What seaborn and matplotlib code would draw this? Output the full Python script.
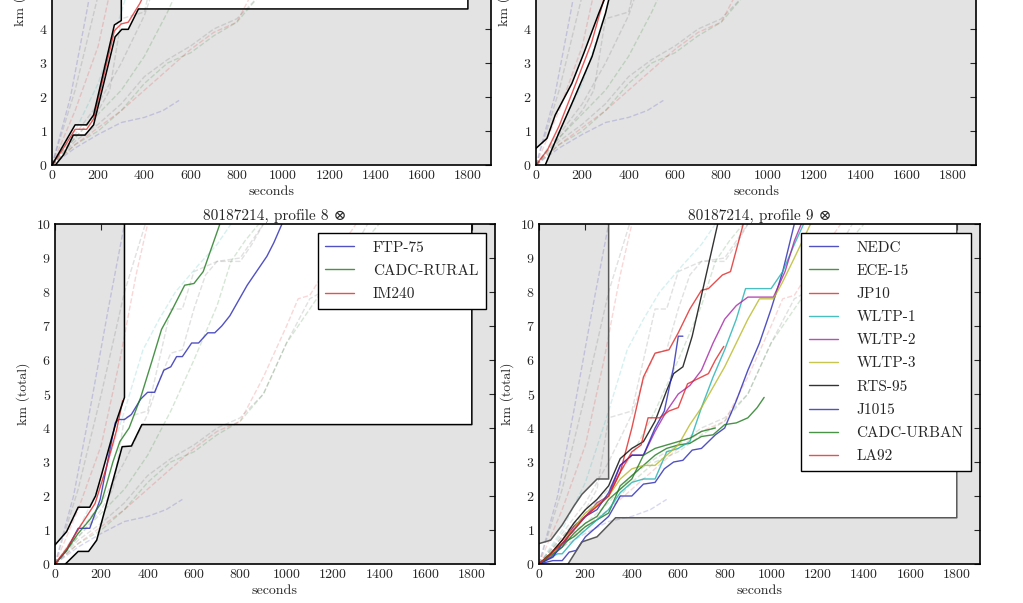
import matplotlib
matplotlib.use("Agg")
import matplotlib.pyplot as plt
import seaborn as sns

# ---- data (seconds, km total) ----
# allowed region per panel: upper / lower boundary
upper_a_t = [0, 100, 150, 180, 270, 300]
upper_a_km = [0.0, 1.18, 1.18, 1.47, 4.12, 4.25]
lower_a_t = [15, 50, 92, 143, 180, 273, 302, 330, 374]
lower_a_km = [0.0, 0.3, 0.88, 0.88, 1.18, 3.77, 3.99, 3.99, 4.59]

upper_b_t = [0, 47, 83, 155, 206, 271, 300]
upper_b_km = [0.49, 0.78, 1.47, 2.4, 3.28, 4.46, 4.95]
lower_b_t = [40, 98, 155, 242, 300, 340]
lower_b_km = [0.0, 0.93, 1.81, 3.19, 4.46, 5.6]

upper_8_t = [0, 50, 100, 150, 175, 200, 265, 300]
upper_8_km = [0.56, 0.95, 1.67, 1.67, 2.0, 2.6, 4.2, 4.9]
lower_8_t = [45, 100, 145, 180, 200, 290, 330, 375]
lower_8_km = [0.0, 0.37, 0.37, 0.7, 1.2, 3.45, 3.47, 4.1]

upper_9_t = [0, 50, 100, 150, 185, 250, 300]
upper_9_km = [0.6, 0.7, 1.15, 1.7, 2.05, 2.5, 2.5]
lower_9_t = [125, 185, 250, 300, 330]
lower_9_km = [0.0, 0.65, 0.8, 1.15, 1.36]

# faint dashed cycles drawn behind every panel
bg_1 = ([0, 100, 200, 300, 390], [0, 2.2, 5.0, 8.0, 10.0])
bg_2 = ([0, 80, 150, 230, 300], [0, 2.0, 4.5, 7.5, 10.0])
bg_3 = ([0, 100, 200, 280, 350, 400], [0, 1.6, 3.5, 6.0, 8.5, 10.0])
bg_4 = ([0, 100, 200, 300, 400, 450, 500, 550, 600, 650, 700, 800, 850, 900],
        [0, 0.9, 1.8, 3.0, 4.4, 5.4, 6.2, 6.3, 7.5, 8.5, 8.9, 9.0, 9.5, 10.0])
bg_5 = ([0, 100, 200, 300, 400, 500, 600, 700, 760, 820, 880],
        [0, 0.8, 1.5, 2.2, 3.2, 4.5, 6.0, 7.6, 8.9, 9.5, 10.0])
bg_6 = ([0, 100, 200, 300, 400, 500, 600, 700, 800, 900, 1000, 1100, 1180, 1250, 1350],
        [0, 0.7, 1.2, 1.8, 2.6, 3.1, 3.5, 4.0, 4.3, 5.0, 6.5, 7.8, 8.1, 8.8, 10.0])
bg_7 = ([0, 100, 200, 300, 400, 500, 600, 700, 800, 900, 1000, 1050, 1100, 1200, 1300],
        [0, 0.6, 1.1, 1.6, 2.2, 2.8, 3.4, 3.9, 4.2, 5.5, 7.0, 7.8, 7.9, 9.0, 10.0])
bg_8 = ([0, 100, 200, 300, 400, 480, 550], [0, 0.5, 0.9, 1.25, 1.4, 1.6, 1.9])
bg_9 = ([0, 100, 200, 300, 400, 500, 600, 700, 800, 900, 1000, 1150, 1200, 1300, 1400],
        [0, 0.6, 1.0, 1.6, 2.4, 3.0, 3.3, 3.8, 4.2, 5.0, 6.5, 8.0, 8.1, 9.2, 10.0])
bg_10 = ([0, 100, 200, 250, 300, 400, 500, 550, 600, 700, 800, 850, 900],
         [0, 0.8, 1.6, 2.2, 4.3, 4.5, 7.5, 7.5, 8.6, 8.9, 8.9, 9.4, 10.0])
bg_11 = ([0, 100, 200, 300, 380, 450, 520, 620, 700, 760],
         [0, 1.0, 2.4, 4.5, 6.3, 7.2, 8.0, 8.8, 9.4, 10.0])
background = [bg_1, bg_2, bg_3, bg_4, bg_5, bg_6, bg_7, bg_8, bg_9, bg_10, bg_11]
bg_colors = ['0.35', 'b', 'r', '0.35', 'g', '0.35', 'r', 'b', 'g', '0.35', 'c']

# highlighted cycles, top panels
red_a_t = [0, 50, 100, 150, 180, 270, 300, 330, 380, 420]
red_a_km = [0, 0.5, 1.05, 1.05, 1.35, 3.95, 4.15, 4.2, 4.75, 5.3]
red_b_t = [0, 50, 100, 155, 240, 290, 310]
red_b_km = [0, 0.45, 1.15, 2.1, 3.6, 4.8, 5.3]

# profile 8
ftp75_t = [0, 50, 100, 150, 195, 260, 275, 300, 330, 370, 400, 430, 470, 500, 525, 550,
           590, 620, 660, 690, 720, 755, 830, 915, 945, 980]
ftp75_km = [0, 0.4, 1.05, 1.05, 1.9, 4.15, 4.25, 4.25, 4.4, 4.85, 5.05, 5.05, 5.7, 5.8, 6.1, 6.1,
            6.5, 6.5, 6.8, 6.8, 7.0, 7.3, 8.2, 9.05, 9.45, 10.0]
cadc_rural_t = [0, 50, 100, 150, 200, 250, 280, 320, 370, 420, 460, 500, 560, 600, 640, 712]
cadc_rural_km = [0, 0.4, 0.9, 1.3, 1.8, 3.0, 3.6, 4.0, 4.9, 6.0, 6.9, 7.4, 8.2, 8.25, 8.6, 10.0]
im240_t = [0, 50, 108, 173, 220, 266, 292]
im240_km = [0, 0.45, 1.1, 1.78, 2.8, 3.94, 4.8]

# profile 9
nedc_t = [0, 60, 100, 130, 160, 200, 250, 300, 350, 400, 450, 500, 540, 580, 620, 660, 700,
          760, 800, 850, 900, 950, 1000, 1050, 1100]
nedc_km = [0, 0.1, 0.1, 0.35, 0.4, 0.8, 1.1, 1.4, 2.0, 2.0, 2.35, 2.4, 2.8, 3.0, 3.05, 3.35, 3.4,
           3.8, 4.0, 4.8, 5.7, 6.5, 7.5, 8.6, 10.0]
ece15_t = [0, 50, 100, 150, 200, 250, 300, 350, 400, 450, 500, 550, 600, 650, 700, 750, 800,
           850, 900, 940, 970]
ece15_km = [0, 0.3, 0.6, 0.8, 1.1, 1.3, 1.5, 2.3, 2.6, 2.9, 3.2, 3.4, 3.5, 3.55, 3.75, 3.8, 4.1,
            4.15, 4.3, 4.6, 4.9]
jp10_t = [0, 50, 100, 150, 200, 250, 300, 350, 400, 450, 500, 560, 600, 650, 700, 730, 790, 825, 880]
jp10_km = [0, 0.3, 0.7, 1.1, 1.4, 1.7, 2.0, 2.7, 4.0, 5.5, 6.2, 6.3, 6.8, 7.5, 8.05, 8.1, 8.5, 8.6, 10.0]
wltp1_t = [0, 80, 100, 150, 200, 250, 300, 350, 400, 450, 500, 550, 600, 650, 700, 750, 800,
           850, 890, 1000, 1050, 1100, 1140]
wltp1_km = [0, 0.3, 0.3, 0.7, 1.0, 1.3, 1.6, 2.1, 2.4, 2.5, 2.5, 3.3, 3.4, 3.6, 4.6, 5.5, 6.3,
            7.2, 8.1, 8.1, 8.6, 9.4, 10.0]
wltp2_t = [0, 50, 100, 150, 200, 250, 300, 350, 400, 450, 500, 550, 600, 650, 700, 750, 800,
           850, 900, 950, 1010, 1060, 1100, 1130]
wltp2_km = [0, 0.2, 0.5, 1.1, 1.4, 1.8, 2.0, 2.9, 3.2, 3.2, 3.9, 4.5, 5.0, 5.25, 5.7, 6.5, 7.2,
            7.6, 7.85, 7.85, 7.85, 8.6, 9.5, 10.0]
wltp3_t = [0, 100, 200, 300, 350, 400, 450, 500, 550, 600, 650, 700, 750, 800, 850, 900, 950,
           1010, 1050, 1100, 1170]
wltp3_km = [0, 0.6, 1.5, 2.0, 2.5, 2.8, 2.9, 2.9, 3.2, 3.5, 4.1, 4.6, 5.2, 5.8, 6.5, 7.2, 7.8,
            7.8, 8.3, 9.0, 10.0]
rts95_t = [0, 50, 100, 150, 200, 250, 300, 350, 400, 450, 500, 550, 580, 620, 660, 710, 770]
rts95_km = [0, 0.3, 0.7, 1.2, 1.6, 1.9, 2.3, 3.1, 3.4, 3.6, 4.2, 5.1, 5.6, 5.8, 6.7, 8.2, 10.0]
j1015_t = [0, 60, 100, 150, 200, 250, 300, 350, 400, 450, 500, 540, 580, 600, 620]
j1015_km = [0, 0.2, 0.6, 1.0, 1.4, 1.6, 2.1, 2.9, 3.2, 3.2, 4.0, 4.5, 5.8, 6.7, 6.7]
cadc_urban_t = [0, 100, 150, 200, 250, 300, 350, 400, 450, 500, 550, 600, 650, 700, 760]
cadc_urban_km = [0, 0.5, 0.9, 1.2, 1.4, 1.9, 2.2, 2.5, 3.2, 3.4, 3.5, 3.6, 3.7, 3.9, 4.0]
la92_t = [0, 100, 200, 300, 350, 400, 440, 470, 520, 560, 600, 640, 670, 700, 730, 760, 796]
la92_km = [0, 0.6, 1.4, 2.0, 2.7, 3.3, 3.5, 4.3, 4.3, 4.5, 4.6, 5.3, 5.4, 5.5, 5.6, 6.0, 6.4]

cycles_8 = [('FTP-75', ftp75_t, ftp75_km, 'b'),
            ('CADC-RURAL', cadc_rural_t, cadc_rural_km, 'g'),
            ('IM240', im240_t, im240_km, 'r')]
cycles_9 = [('NEDC', nedc_t, nedc_km, 'b'),
            ('ECE-15', ece15_t, ece15_km, 'g'),
            ('JP10', jp10_t, jp10_km, 'r'),
            ('WLTP-1', wltp1_t, wltp1_km, 'c'),
            ('WLTP-2', wltp2_t, wltp2_km, 'm'),
            ('WLTP-3', wltp3_t, wltp3_km, 'y'),
            ('RTS-95', rts95_t, rts95_km, 'k'),
            ('J1015', j1015_t, j1015_km, 'b'),
            ('CADC-URBAN', cadc_urban_t, cadc_urban_km, 'g'),
            ('LA92', la92_t, la92_km, 'r')]

# old-style colour letters, a bit muted like the picture
CLASSIC = {'b': '#2626b4', 'g': '#1c781c', 'r': '#e02424', 'c': '#1cb0b0',
           'm': '#a424a4', 'y': '#b8b824', 'k': '#000000'}

BOX_RIGHT = 1800
TOP = 11


def col(c):
    return CLASSIC.get(c, c)


def draw_region(ax, up_t, up_km, lo_t, lo_km, edge='black'):
    xs = [0] + up_t + [up_t[-1], BOX_RIGHT, BOX_RIGHT] + lo_t[::-1]
    ys = [0] + up_km + [TOP, TOP, lo_km[-1]] + lo_km[::-1]
    ax.fill(xs, ys, color='white', zorder=1, lw=0)
    sns.lineplot(x=up_t + [up_t[-1]], y=up_km + [TOP], ax=ax, color=edge, lw=1.1,
                 sort=False, estimator=None, zorder=4)
    sns.lineplot(x=lo_t + [BOX_RIGHT, BOX_RIGHT], y=lo_km + [lo_km[-1], TOP], ax=ax, color=edge,
                 lw=1.1, sort=False, estimator=None, zorder=4)


def draw_background(ax):
    for (t, km), c in zip(background, bg_colors):
        sns.lineplot(x=t, y=km, ax=ax, color=col(c), lw=1, alpha=0.18, linestyle='--',
                     sort=False, estimator=None, zorder=2)


def style_axes(ax, title=None):
    ax.set_xlim(0, 1900)
    ax.set_ylim(0, 10)
    ax.set_xticks(range(0, 1801, 200))
    ax.set_yticks(range(0, 11))
    ax.set_xlabel('seconds', fontsize=10, labelpad=3)
    ax.set_ylabel('km (total)', fontsize=10)
    ax.tick_params(direction='in', top=True, right=True, length=4, width=0.8,
                   labelsize=10, pad=3)
    for sp in ax.spines.values():
        sp.set_color('black')
        sp.set_linewidth(1.2)
        sp.set_zorder(6)
    if title:
        ax.set_title(title, fontsize=11, pad=3)


sns.set_theme(style='white', color_codes=False, rc={'axes.facecolor': '#e3e3e3'})
plt.rcParams['font.family'] = ['cmr10', 'DejaVu Serif']
plt.rcParams['mathtext.fontset'] = 'cm'
plt.rcParams['axes.formatter.use_mathtext'] = True

W, H = 1023, 603
fig = plt.figure(figsize=(W / 100, H / 100), dpi=100)
ax_a = fig.add_axes([52 / W, 1 - 165 / H, 439 / W, 340 / H])
ax_b = fig.add_axes([536 / W, 1 - 165 / H, 440 / W, 340 / H])
ax_8 = fig.add_axes([55 / W, 1 - 564 / H, 440 / W, 340 / H])
ax_9 = fig.add_axes([539 / W, 1 - 564 / H, 441 / W, 340 / H])

# top left
draw_region(ax_a, upper_a_t, upper_a_km, lower_a_t, lower_a_km, edge='black')
draw_background(ax_a)
sns.lineplot(x=red_a_t, y=red_a_km, ax=ax_a, color=col('r'), lw=1, alpha=0.75,
             sort=False, estimator=None, zorder=3)
style_axes(ax_a)

# top right
draw_region(ax_b, upper_b_t, upper_b_km, lower_b_t, lower_b_km, edge='black')
draw_background(ax_b)
sns.lineplot(x=red_b_t, y=red_b_km, ax=ax_b, color=col('r'), lw=1, alpha=0.75,
             sort=False, estimator=None, zorder=3)
style_axes(ax_b)

# profile 8
draw_region(ax_8, upper_8_t, upper_8_km, lower_8_t, lower_8_km, edge='black')
draw_background(ax_8)
for name, t, km, c in cycles_8:
    sns.lineplot(x=t, y=km, ax=ax_8, color=col(c), lw=1, alpha=0.8, label=name,
                 sort=False, estimator=None, zorder=3)
style_axes(ax_8, '80187214, profile 8 \u2297')

# profile 9
draw_region(ax_9, upper_9_t, upper_9_km, lower_9_t, lower_9_km, edge='0.35')
draw_background(ax_9)
for name, t, km, c in cycles_9:
    sns.lineplot(x=t, y=km, ax=ax_9, color=col(c), lw=1, alpha=0.8, label=name,
                 sort=False, estimator=None, zorder=3)
style_axes(ax_9, '80187214, profile 9 \u2297')

for ax in (ax_8, ax_9):
    leg = ax.legend(loc='upper right', fontsize=11, frameon=True, fancybox=False,
                    framealpha=1, facecolor='white', edgecolor='black', handlelength=1.9,
                    handletextpad=1.2, labelspacing=0.62, borderpad=0.5, borderaxespad=0.6)
    leg.get_frame().set_linewidth(1.0)
    leg.set_zorder(7)

fig.savefig('out.png', dpi=100)
